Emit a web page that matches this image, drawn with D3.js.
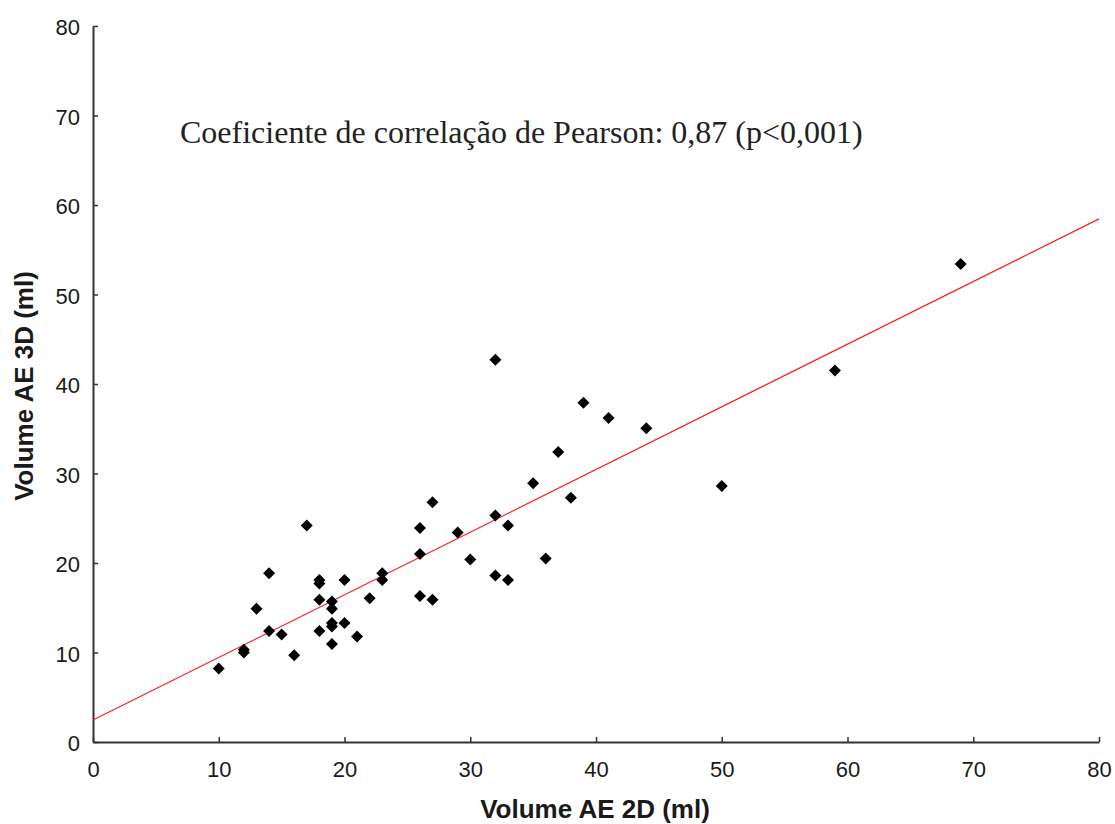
<!DOCTYPE html>
<html>
<head>
<meta charset="utf-8">
<script src="https://cdn.jsdelivr.net/npm/d3@7"></script>
<style>
  html, body { margin: 0; padding: 0; background: #fff; }
  svg { display: block; }
</style>
</head>
<body>
<script>
// ---- data ----
const volume2D = [10,12,12,13,14,14,15,16,17,18,18,18,18,19,19,19,19,19,20,20,21,22,23,23,26,26,26,27,27,29,30,32,32,32,33,33,35,36,37,38,39,41,44,50,59,69];
const volume3D = [8.2,10.3,10.0,14.9,18.85,12.4,12.0,9.7,24.2,18.1,17.7,15.9,12.4,15.7,14.9,13.3,12.9,10.95,18.1,13.3,11.8,16.05,18.85,18.1,23.9,21.0,16.3,26.8,15.9,23.4,20.4,42.7,25.3,18.6,24.2,18.1,28.9,20.5,32.4,27.3,37.9,36.2,35.05,28.6,41.5,53.4];
const regressionCoef = [2.45, 0.70];        // intercept, slope
const regressionRange = [0, 80];
const xTicks = [0,10,20,30,40,50,60,70,80];
const yTicks = [0,10,20,30,40,50,60,70,80];
const xTitle = "Volume AE 2D (ml)";
const yTitle = "Volume AE 3D (ml)";
const annotation = "Coeficiente de correlação de Pearson: 0,87 (p<0,001)";

const W = 1115, H = 824;
const svg = d3.select("body").append("svg").attr("width", W).attr("height", H);

const x = d3.scaleLinear().domain([0, 80]).range([93, 1099]);
const y = d3.scaleLinear().domain([0, 80]).range([742, 26]);

const axisColor = "#333";
const labelFont = "'Liberation Sans', Arial, sans-serif";

// x axis
const xAxis = svg.append("g").attr("transform", `translate(0,${y(0)})`)
  .call(d3.axisBottom(x).tickValues(xTicks).tickSizeInner(-5).tickSizeOuter(0).tickPadding(0).tickFormat(d3.format("d")));
xAxis.select(".domain").attr("stroke", axisColor).attr("stroke-width", 2);
xAxis.selectAll(".tick line").attr("stroke", axisColor).attr("stroke-width", 1.5);
xAxis.selectAll(".tick text").attr("y", 35).attr("dy", null)
  .attr("font-family", labelFont).attr("font-size", 22).attr("fill", "#1a1a1a");

// y axis
const yAxis = svg.append("g").attr("transform", `translate(${x(0)},0)`)
  .call(d3.axisLeft(y).tickValues(yTicks).tickSizeInner(-5).tickSizeOuter(0).tickPadding(0).tickFormat(d3.format("d")));
yAxis.select(".domain").attr("stroke", axisColor).attr("stroke-width", 2);
yAxis.selectAll(".tick line").attr("stroke", axisColor).attr("stroke-width", 1.5);
yAxis.selectAll(".tick text").attr("x", -13).attr("dy", "0.4em")
  .attr("font-family", labelFont).attr("font-size", 22).attr("fill", "#1a1a1a");

// axis titles
svg.append("text").attr("x", 595).attr("y", 818).attr("text-anchor", "middle")
  .attr("font-family", labelFont).attr("font-weight", "bold").attr("font-size", 26).attr("fill", "#1a1a1a")
  .text(xTitle);
svg.append("text").attr("transform", `translate(33,386) rotate(-90)`).attr("text-anchor", "middle")
  .attr("font-family", labelFont).attr("font-weight", "bold").attr("font-size", 26).attr("fill", "#1a1a1a")
  .text(yTitle);

// regression line
const regLine = regressionRange.map(v => [v, regressionCoef[0] + regressionCoef[1] * v]);
svg.append("path")
  .attr("d", d3.line().x(d => x(d[0])).y(d => y(d[1]))(regLine))
  .attr("fill", "none").attr("stroke", "#ff2020").attr("stroke-width", 1.2);

// points (diamonds)
const pts = volume2D.map((v, i) => [v, volume3D[i]]);
svg.append("g").selectAll("path").data(pts).join("path")
  .attr("d", d3.symbol().type(d3.symbolSquare).size(72)())
  .attr("transform", d => `translate(${x(d[0])},${y(d[1])}) rotate(45)`)
  .attr("fill", "#000");

// annotation
svg.append("text").attr("x", 180).attr("y", 143)
  .attr("font-family", "'Liberation Serif', 'Times New Roman', serif").attr("font-size", 32).attr("fill", "#222")
  .text(annotation);
</script>
</body>
</html>
